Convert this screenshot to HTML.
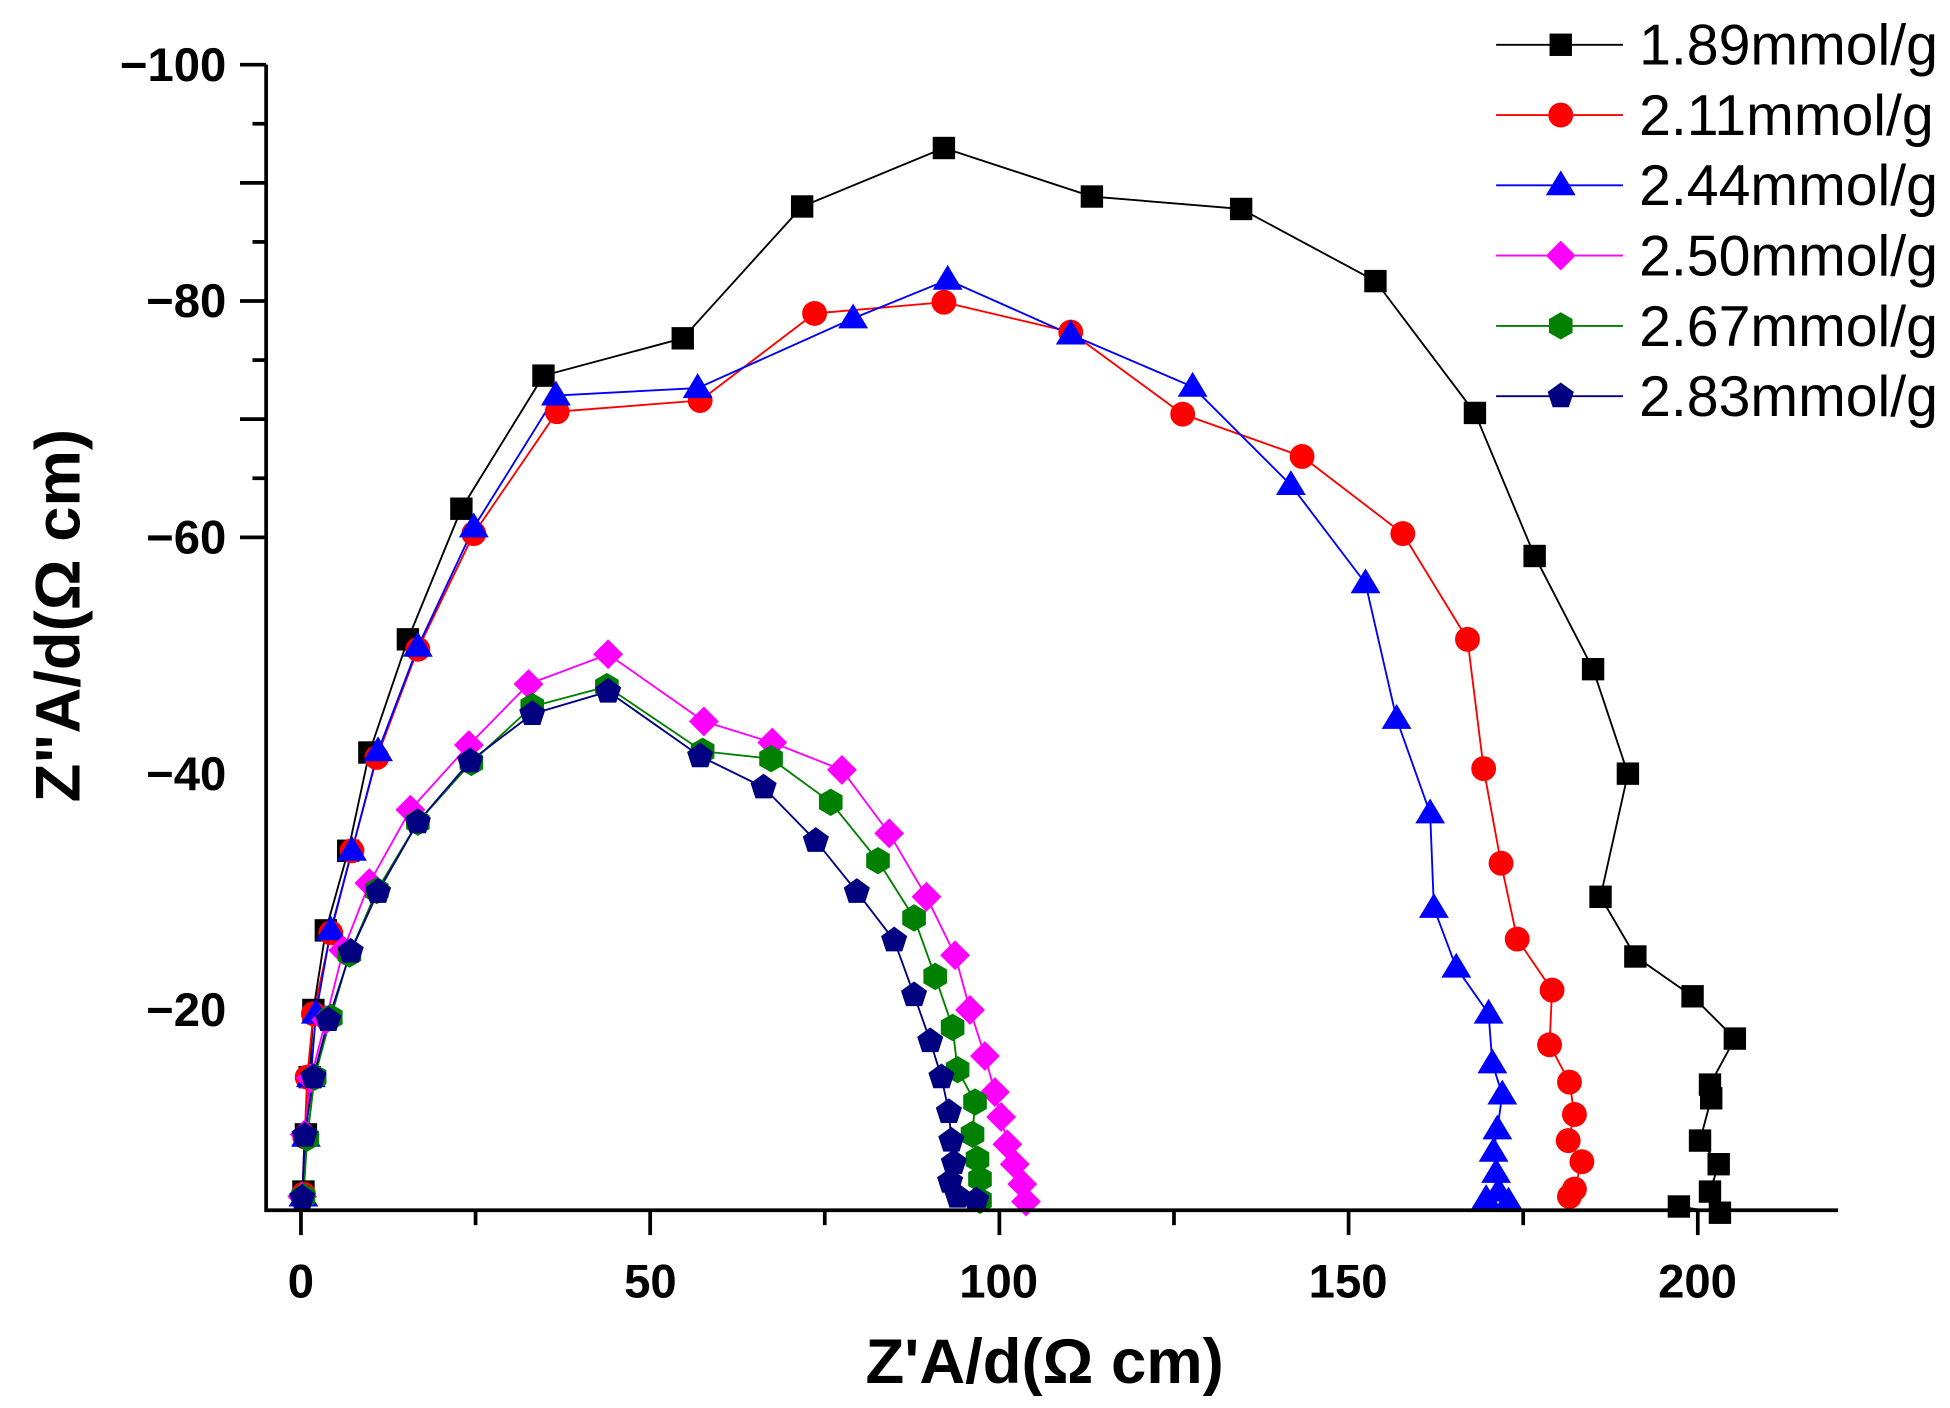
<!DOCTYPE html>
<html><head><meta charset="utf-8"><style>html,body{margin:0;padding:0;background:#fff}svg{display:block}</style></head>
<body>
<svg id="s" width="1950" height="1408" viewBox="0 0 1568 1132" preserveAspectRatio="none" xmlns="http://www.w3.org/2000/svg" font-family="Liberation Sans, Arial, sans-serif">
<rect width="1568" height="1132" fill="#fff"/>
<g id="plot"></g>
<g stroke="#000" stroke-width="3" fill="none">
<polyline points="214,52 214,973 1478,973"/>
</g>
<g id="ticks" stroke="#000" stroke-width="3"></g>
<g font-weight="bold" font-size="38" text-anchor="end" fill="#000">
<text x="182" y="65">−100</text>
<text x="182" y="255">−80</text>
<text x="182" y="445">−60</text>
<text x="182" y="635">−40</text>
<text x="182" y="825">−20</text>
</g>
<g font-weight="bold" font-size="38" text-anchor="middle" fill="#000">
<text x="242" y="1043">0</text>
<text x="523" y="1043">50</text>
<text x="803" y="1043">100</text>
<text x="1084" y="1043">150</text>
<text x="1365" y="1043">200</text>
</g>
<text x="840" y="1112" font-weight="bold" font-size="51" text-anchor="middle">Z'A/d(Ω cm)</text>
<text transform="translate(64,495) rotate(-90)" font-weight="bold" font-size="51" text-anchor="middle">Z"A/d(Ω cm)</text>
<g id="legend" font-size="46" fill="#000"></g>
</svg>
<script>
const NS="http://www.w3.org/2000/svg";
function el(t,a,p){const e=document.createElementNS(NS,t);for(const k in a)e.setAttribute(k,a[k]);p.appendChild(e);return e;}
const tk=document.getElementById('ticks');
for(let i=0;i<9;i++){const y=52+i*47.5;const maj=i%2==0;el('line',{x1:maj?193:203,y1:y,x2:214,y2:y},tk);}
for(let i=0;i<9;i++){const x=242+i*140.4;const maj=i%2==0;el('line',{x1:x,y1:973,x2:x,y2:maj?993:985},tk);}
const S=[
{c:'#000',m:'sq',p:[[244,958],[246,912],[249,866],[252,812],[262,748],[280,684],[297,605],[328,514],[371,409],[437,302],[549,272],[645,166],[759,119],[878,158],[998,168],[1106,226],[1186,332],[1234,447],[1281,538],[1309,622],[1287,721],[1315,769],[1361,801],[1395,835],[1375,872],[1376,883],[1367,917],[1382,936],[1375,958],[1383,975],[1350,970]]},
{c:'#f00',m:'ci',p:[[244,960],[245,914],[247,866],[252,815],[266,750],[283,684],[303,609],[336,522],[381,429],[448,331],[563,322],[655,252],[759,243],[861,267],[951,333],[1047,367],[1128,429],[1180,514],[1193,618],[1207,694],[1220,755],[1248,796],[1246,840],[1262,870],[1266,896],[1261,917],[1272,934],[1266,956],[1262,962]]},
{c:'#00f',m:'tr',p:[[244,962],[246,914],[250,866],[254,815],[266,748],[283,684],[304,604],[336,520],[381,424],[447,318],[561,312],[686,256],[762,225],[861,269],[959,311],[1038,390],[1098,469],[1123,578],[1150,654],[1153,730],[1171,778],[1197,815],[1200,855],[1208,880],[1204,908],[1201,926],[1203,943],[1205,958],[1213,966],[1195,964]]},
{c:'#f0f',m:'di',p:[[243,962],[245,912],[250,867],[262,820],[276,764],[297,710],[330,651],[377,599],[425,550],[489,526],[566,580],[621,597],[677,619],[715,670],[745,721],[768,768],[780,812],[792,849],[800,878],[805,898],[810,920],[816,936],[822,952],[825,966]]},
{c:'#008000',m:'hx',p:[[244,962],[247,915],[253,866],[266,818],[281,767],[303,716],[336,661],[379,613],[428,568],[488,552],[565,604],[620,610],[668,645],[706,692],[735,738],[752,785],[766,826],[770,860],[784,886],[782,912],[786,932],[788,948],[788,965]]},
{c:'#000080',m:'pe',p:[[243,963],[245,913],[252,866],[264,820],[282,765],[304,717],[336,661],[378,612],[428,574],[489,556],[563,608],[614,633],[656,676],[689,717],[719,756],[735,800],[748,837],[757,866],[763,894],[765,917],[767,935],[764,950],[770,962],[785,965]]}
];
function poly(n,r,rot,x,y){let s=[];for(let i=0;i<n;i++){const a=rot+i*2*Math.PI/n;s.push((x+r*Math.cos(a)).toFixed(1)+','+(y+r*Math.sin(a)).toFixed(1));}return s.join(' ');}
function mk(m,x,y,c,g){
 if(m=='sq')el('rect',{x:x-9,y:y-9,width:18,height:18,fill:c},g);
 else if(m=='ci')el('circle',{cx:x,cy:y,r:10,fill:c},g);
 else if(m=='tr')el('polygon',{points:`${x},${y-12} ${x+12},${y+8} ${x-12},${y+8}`,fill:c},g);
 else if(m=='di')el('polygon',{points:poly(4,12,-Math.PI/2,x,y),fill:c},g);
 else if(m=='hx')el('polygon',{points:poly(6,11,-Math.PI/2,x,y),fill:c},g);
 else el('polygon',{points:poly(5,11,-Math.PI/2,x,y),fill:c},g);
}
const pl=document.getElementById('plot');
S.forEach(s=>{el('polyline',{points:s.p.map(q=>q.join(',')).join(' '),fill:'none',stroke:s.c,'stroke-width':1.5},pl);});
S.forEach(s=>{s.p.forEach(q=>mk(s.m,q[0],q[1],s.c,pl));});
const lg=document.getElementById('legend');
const labels=['1.89mmol/g','2.11mmol/g','2.44mmol/g','2.50mmol/g','2.67mmol/g','2.83mmol/g'];
S.forEach((s,i)=>{const y=36+i*56.5;el('line',{x1:1203,y1:y,x2:1305,y2:y,stroke:s.c,'stroke-width':1.5},lg);mk(s.m,1255,y,s.c,lg);const t=el('text',{x:1318,y:y+16},lg);t.textContent=labels[i];});
</script>
</body></html>
